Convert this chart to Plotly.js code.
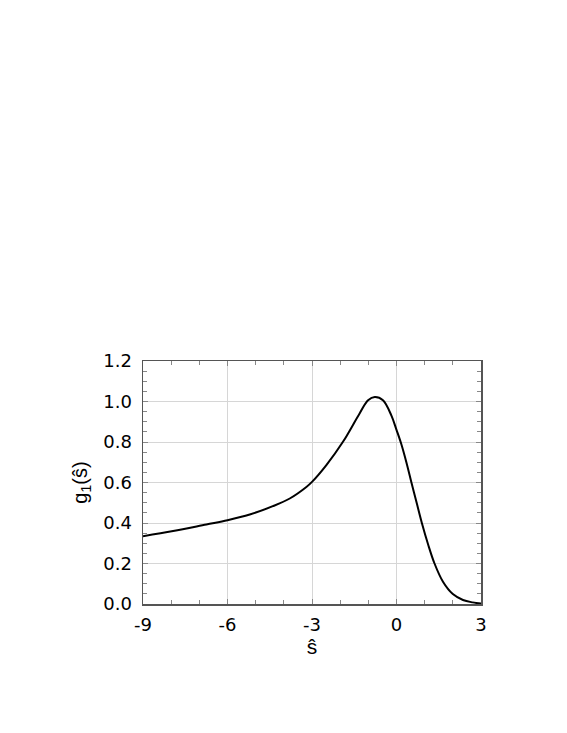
<!DOCTYPE html>
<html>
<head>
<meta charset="utf-8">
<script src="https://cdn.plot.ly/plotly-3.0.1.min.js"></script>
<style>
  html, body { margin: 0; padding: 0; background: #fff; }
  #plot { width: 567px; height: 733px; }
</style>
</head>
<body>
<div id="plot"></div>
<script>
// Curve values
const sHat = [-9, -7.93, -6.75, -6, -5.21, -4.39, -3.79, -3.2, -3.0, -2.49, -1.9, -1.31,
  -1.01, -0.77, -0.48, -0.18, 0, 0.17, 0.35, 0.53, 0.72, 0.9, 1.12, 1.35, 1.65, 2.0, 2.36, 2.7, 3];
const g1 = [0.335, 0.360, 0.393, 0.414, 0.442, 0.483, 0.521, 0.578, 0.603, 0.686, 0.801, 0.941,
  1.006, 1.022, 1.006, 0.930, 0.860, 0.790, 0.700, 0.600, 0.497, 0.400, 0.295, 0.200, 0.110,
  0.049, 0.020, 0.008, 0.002];

const xTicks = [-9, -6, -3, 0, 3];
const yTicks = [0, 0.2, 0.4, 0.6, 0.8, 1.0, 1.2];

const curve = {
  x: sHat,
  y: g1,
  type: "scatter",
  mode: "lines",
  line: { color: "#000", width: 2, shape: "spline", smoothing: 1 },
  hoverinfo: "skip",
};

const font = "Liberation Sans, Arial, sans-serif";
const tickFont = "DejaVu Sans, sans-serif";

const axisCommon = {
  showline: true,
  linecolor: "#555",
  linewidth: 1.5,
  mirror: "ticks",
  ticks: "inside",
  ticklen: 5,
  tickcolor: "#888",
  showgrid: true,
  gridcolor: "#d6d6d6",
  gridwidth: 1,
  zeroline: false,
  tickfont: { family: tickFont, size: 18, color: "#000" },
};

const layout = {
  width: 567,
  height: 733,
  margin: { l: 143, r: 86, t: 361, b: 129 },
  showlegend: false,
  plot_bgcolor: "#fff",
  paper_bgcolor: "#fff",
  xaxis: {
    ...axisCommon,
    range: [-9, 3],
    tickvals: xTicks,
    ticktext: xTicks.map(String),
    minor: { dtick: 1, ticks: "inside", ticklen: 4, tickcolor: "#888", showgrid: false },
    ticklabelstandoff: 4,
    title: { text: "ŝ", standoff: 2, font: { family: font, size: 21, color: "#000" } },
  },
  yaxis: {
    ...axisCommon,
    range: [0, 1.2],
    tickvals: yTicks,
    ticktext: yTicks.map((v) => v.toFixed(1)),
    minor: { dtick: 0.05, ticks: "inside", ticklen: 4, tickcolor: "#888", showgrid: false },
    ticklabelstandoff: 6,
    title: { text: "g<sub>1</sub>(ŝ)", standoff: 10, font: { family: font, size: 20, color: "#000" } },
  },
};

Plotly.newPlot("plot", [curve], layout, { displayModeBar: false, staticPlot: true });
</script>
</body>
</html>
